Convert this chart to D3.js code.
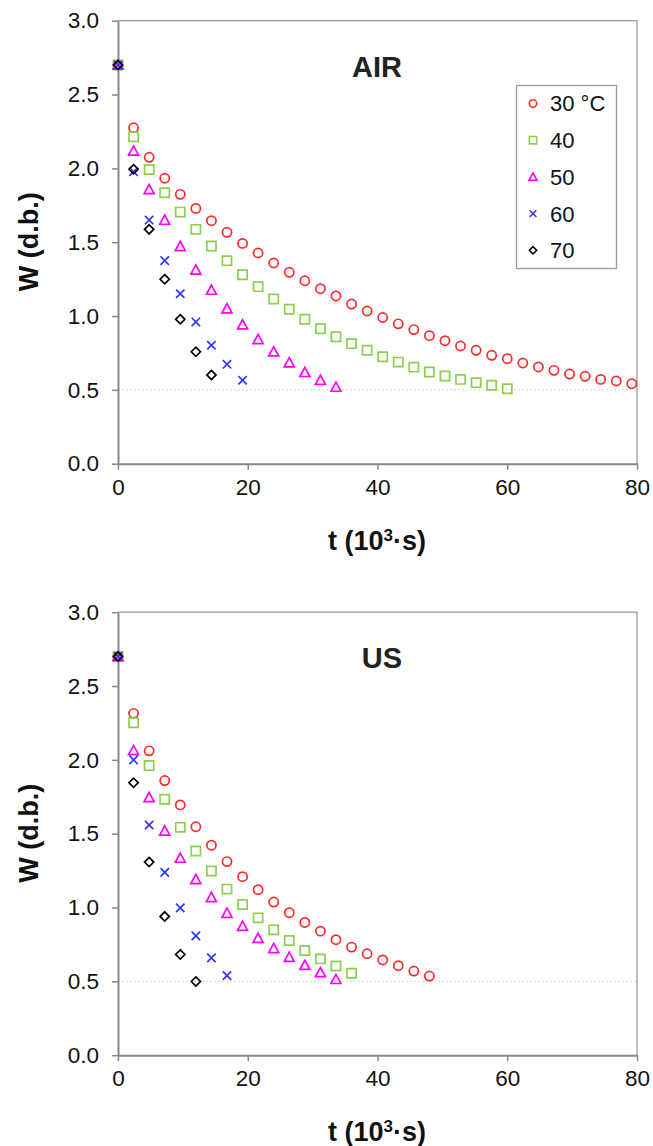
<!DOCTYPE html>
<html>
<head>
<meta charset="utf-8">
<script src="https://cdn.jsdelivr.net/npm/d3@7"></script>
<style>
  body { margin: 0; background: #fff; }
  svg { display: block; font-family: "Liberation Sans", Arial, sans-serif; }
</style>
</head>
<body>
<svg id="chart" width="653" height="1146"></svg>
<script>
// drying time, 10^3 s (one reading every 2.4)
const times = [0, 2.4, 4.8, 7.2, 9.6, 12, 14.4, 16.8, 19.2, 21.6, 24, 26.4, 28.8, 31.2, 33.6,
  36, 38.4, 40.8, 43.2, 45.6, 48, 50.4, 52.8, 55.2, 57.6, 60, 62.4, 64.8, 67.2, 69.6,
  72, 74.4, 76.8, 79.2]

const seriesNames = ["30 °C", "40", "50", "60", "70"]

// moisture content W (d.b.) - AIR drying
const air30 = [2.70, 2.275, 2.075, 1.933, 1.824, 1.729, 1.646, 1.567, 1.492, 1.427, 1.359, 1.296,
  1.239, 1.185, 1.136, 1.081, 1.034, 0.990, 0.947, 0.908, 0.867, 0.833, 0.797, 0.768, 0.734,
  0.711, 0.682, 0.655, 0.632, 0.607, 0.592, 0.571, 0.560, 0.542]
const air40 = [2.70, 2.214, 1.992, 1.835, 1.704, 1.587, 1.474, 1.375, 1.280, 1.199, 1.115, 1.046,
  0.978, 0.914, 0.860, 0.813, 0.768, 0.724, 0.688, 0.654, 0.621, 0.594, 0.571, 0.549, 0.531, 0.508]
const air50 = [2.70, 2.118, 1.857, 1.650, 1.472, 1.312, 1.176, 1.050, 0.941, 0.842, 0.758, 0.684,
  0.619, 0.565, 0.519]
const air60 = [2.70, 1.977, 1.650, 1.375, 1.151, 0.960, 0.802, 0.673, 0.565]
const air70 = [2.70, 1.994, 1.587, 1.249, 0.978, 0.758, 0.601]

// moisture content W (d.b.) - US assisted drying
const us30 = [2.70, 2.315, 2.061, 1.860, 1.695, 1.547, 1.422, 1.311, 1.209, 1.121, 1.037, 0.965,
  0.899, 0.840, 0.782, 0.732, 0.687, 0.645, 0.606, 0.570, 0.536]
const us40 = [2.70, 2.251, 1.962, 1.733, 1.543, 1.383, 1.247, 1.125, 1.021, 0.930, 0.849, 0.777,
  0.709, 0.652, 0.604, 0.555]
const us50 = [2.70, 2.064, 1.746, 1.519, 1.335, 1.191, 1.069, 0.962, 0.874, 0.793, 0.723, 0.664,
  0.609, 0.560, 0.514]
const us60 = [2.70, 2.000, 1.559, 1.238, 0.998, 0.808, 0.659, 0.539]
const us70 = [2.70, 1.845, 1.308, 0.940, 0.682, 0.499]

const xTicks = [0, 20, 40, 60, 80]
const yTicks = [0, 0.5, 1.0, 1.5, 2.0, 2.5, 3.0]

const colors = ["#ff2b2b", "#8ccf4e", "#ff00ff", "#3434ff", "#000000"]
const shapes = ["circle", "square", "triangle", "cross", "diamond"]

const svg = d3.select("#chart")

function markerPath(shape) {
  if (shape == "circle") return "M4.6,0A4.6,4.6 0 1,1 -4.6,0A4.6,4.6 0 1,1 4.6,0Z"
  if (shape == "square") return "M-4.6,-4.6H4.6V4.6H-4.6Z"
  if (shape == "triangle") return "M0,-5L5,4.2H-5Z"
  if (shape == "cross") return "M-4.2,-4.2L4.2,4.2M-4.2,4.2L4.2,-4.2"
  return "M0,-4.6L4.6,0L0,4.6L-4.6,0Z"
}

function drawPanel(top, title, titleX, series, legend) {
  const x = d3.scaleLinear().domain([0, 80]).range([118, 637])
  const y = d3.scaleLinear().domain([0, 3]).range([top + 443, top])
  const g = svg.append("g")

  // frame top / right
  g.append("path")
    .attr("d", `M${x(0)},${y(3)}H${x(80)}V${y(0)}`)
    .attr("fill", "none").attr("stroke", "#9a9a9a").attr("stroke-width", 1.3)

  // reference line at 0.5
  g.append("line")
    .attr("x1", x(0)).attr("x2", x(80)).attr("y1", y(0.5)).attr("y2", y(0.5))
    .attr("stroke", "#d4d4d4").attr("stroke-width", 1).attr("stroke-dasharray", "2,2")

  const xAxis = g.append("g").attr("transform", `translate(0,${y(0)})`)
    .call(d3.axisBottom(x).tickValues(xTicks).tickSize(6).tickSizeOuter(0).tickFormat(d3.format("d")))
  const yAxis = g.append("g").attr("transform", `translate(${x(0)},0)`)
    .call(d3.axisLeft(y).tickValues(yTicks).tickSize(6).tickSizeOuter(0).tickFormat(d3.format(".1f")))

  ;[xAxis, yAxis].forEach(a => {
    a.select(".domain").attr("stroke", "#888").attr("stroke-width", 2)
    a.selectAll(".tick line").attr("stroke", "#888").attr("stroke-width", 1.5)
    a.selectAll(".tick text").attr("fill", "#111").style("font-size", "22.5px")
      .style("font-family", "Liberation Sans, Arial, sans-serif")
  })
  xAxis.selectAll(".tick text").attr("dy", "0.45em").attr("y", 21)
  yAxis.selectAll(".tick text").attr("x", -19)

  // axis titles
  g.append("text")
    .attr("x", 377).attr("y", y(0) + 86)
    .attr("text-anchor", "middle").attr("font-weight", "bold").attr("font-size", 27)
    .attr("fill", "#111")
    .html('t (10<tspan dy="-9" font-size="17">3</tspan><tspan dy="9">·s)</tspan>')

  g.append("text")
    .attr("transform", `translate(38,${top + 221}) rotate(-90)`)
    .attr("text-anchor", "middle").attr("font-weight", "bold").attr("font-size", 27)
    .attr("fill", "#111")
    .text("W (d.b.)")

  g.append("text")
    .attr("x", titleX).attr("y", top + 56)
    .attr("text-anchor", "middle").attr("font-weight", "bold").attr("font-size", 29)
    .attr("fill", "#222")
    .text(title)

  // data markers
  series.forEach((vals, i) => {
    g.append("g").selectAll("path")
      .data(vals)
      .join("path")
      .attr("transform", (d, j) => `translate(${x(times[j])},${y(d)})`)
      .attr("d", markerPath(shapes[i]))
      .attr("fill", "none")
      .attr("stroke", colors[i])
      .attr("stroke-width", 1.7)
  })

  if (legend) {
    const lg = g.append("g")
    lg.append("rect")
      .attr("x", 516.5).attr("y", 85.5).attr("width", 100).attr("height", 183)
      .attr("fill", "#fff").attr("stroke", "#9a9a9a").attr("stroke-width", 1.3)
    seriesNames.forEach((name, i) => {
      const ly = 103.5 + i * 36.7
      lg.append("path")
        .attr("transform", `translate(533,${ly}) scale(0.8)`)
        .attr("d", markerPath(shapes[i]))
        .attr("fill", "none").attr("stroke", colors[i]).attr("stroke-width", 2)
      lg.append("text")
        .attr("x", 550).attr("y", ly).attr("dy", "0.36em")
        .attr("font-size", 22).attr("fill", "#111")
        .text(name)
    })
  }
}

drawPanel(20.7, "AIR", 377, [air30, air40, air50, air60, air70], true)
drawPanel(612.2, "US", 382, [us30, us40, us50, us60, us70], false)
</script>
</body>
</html>
